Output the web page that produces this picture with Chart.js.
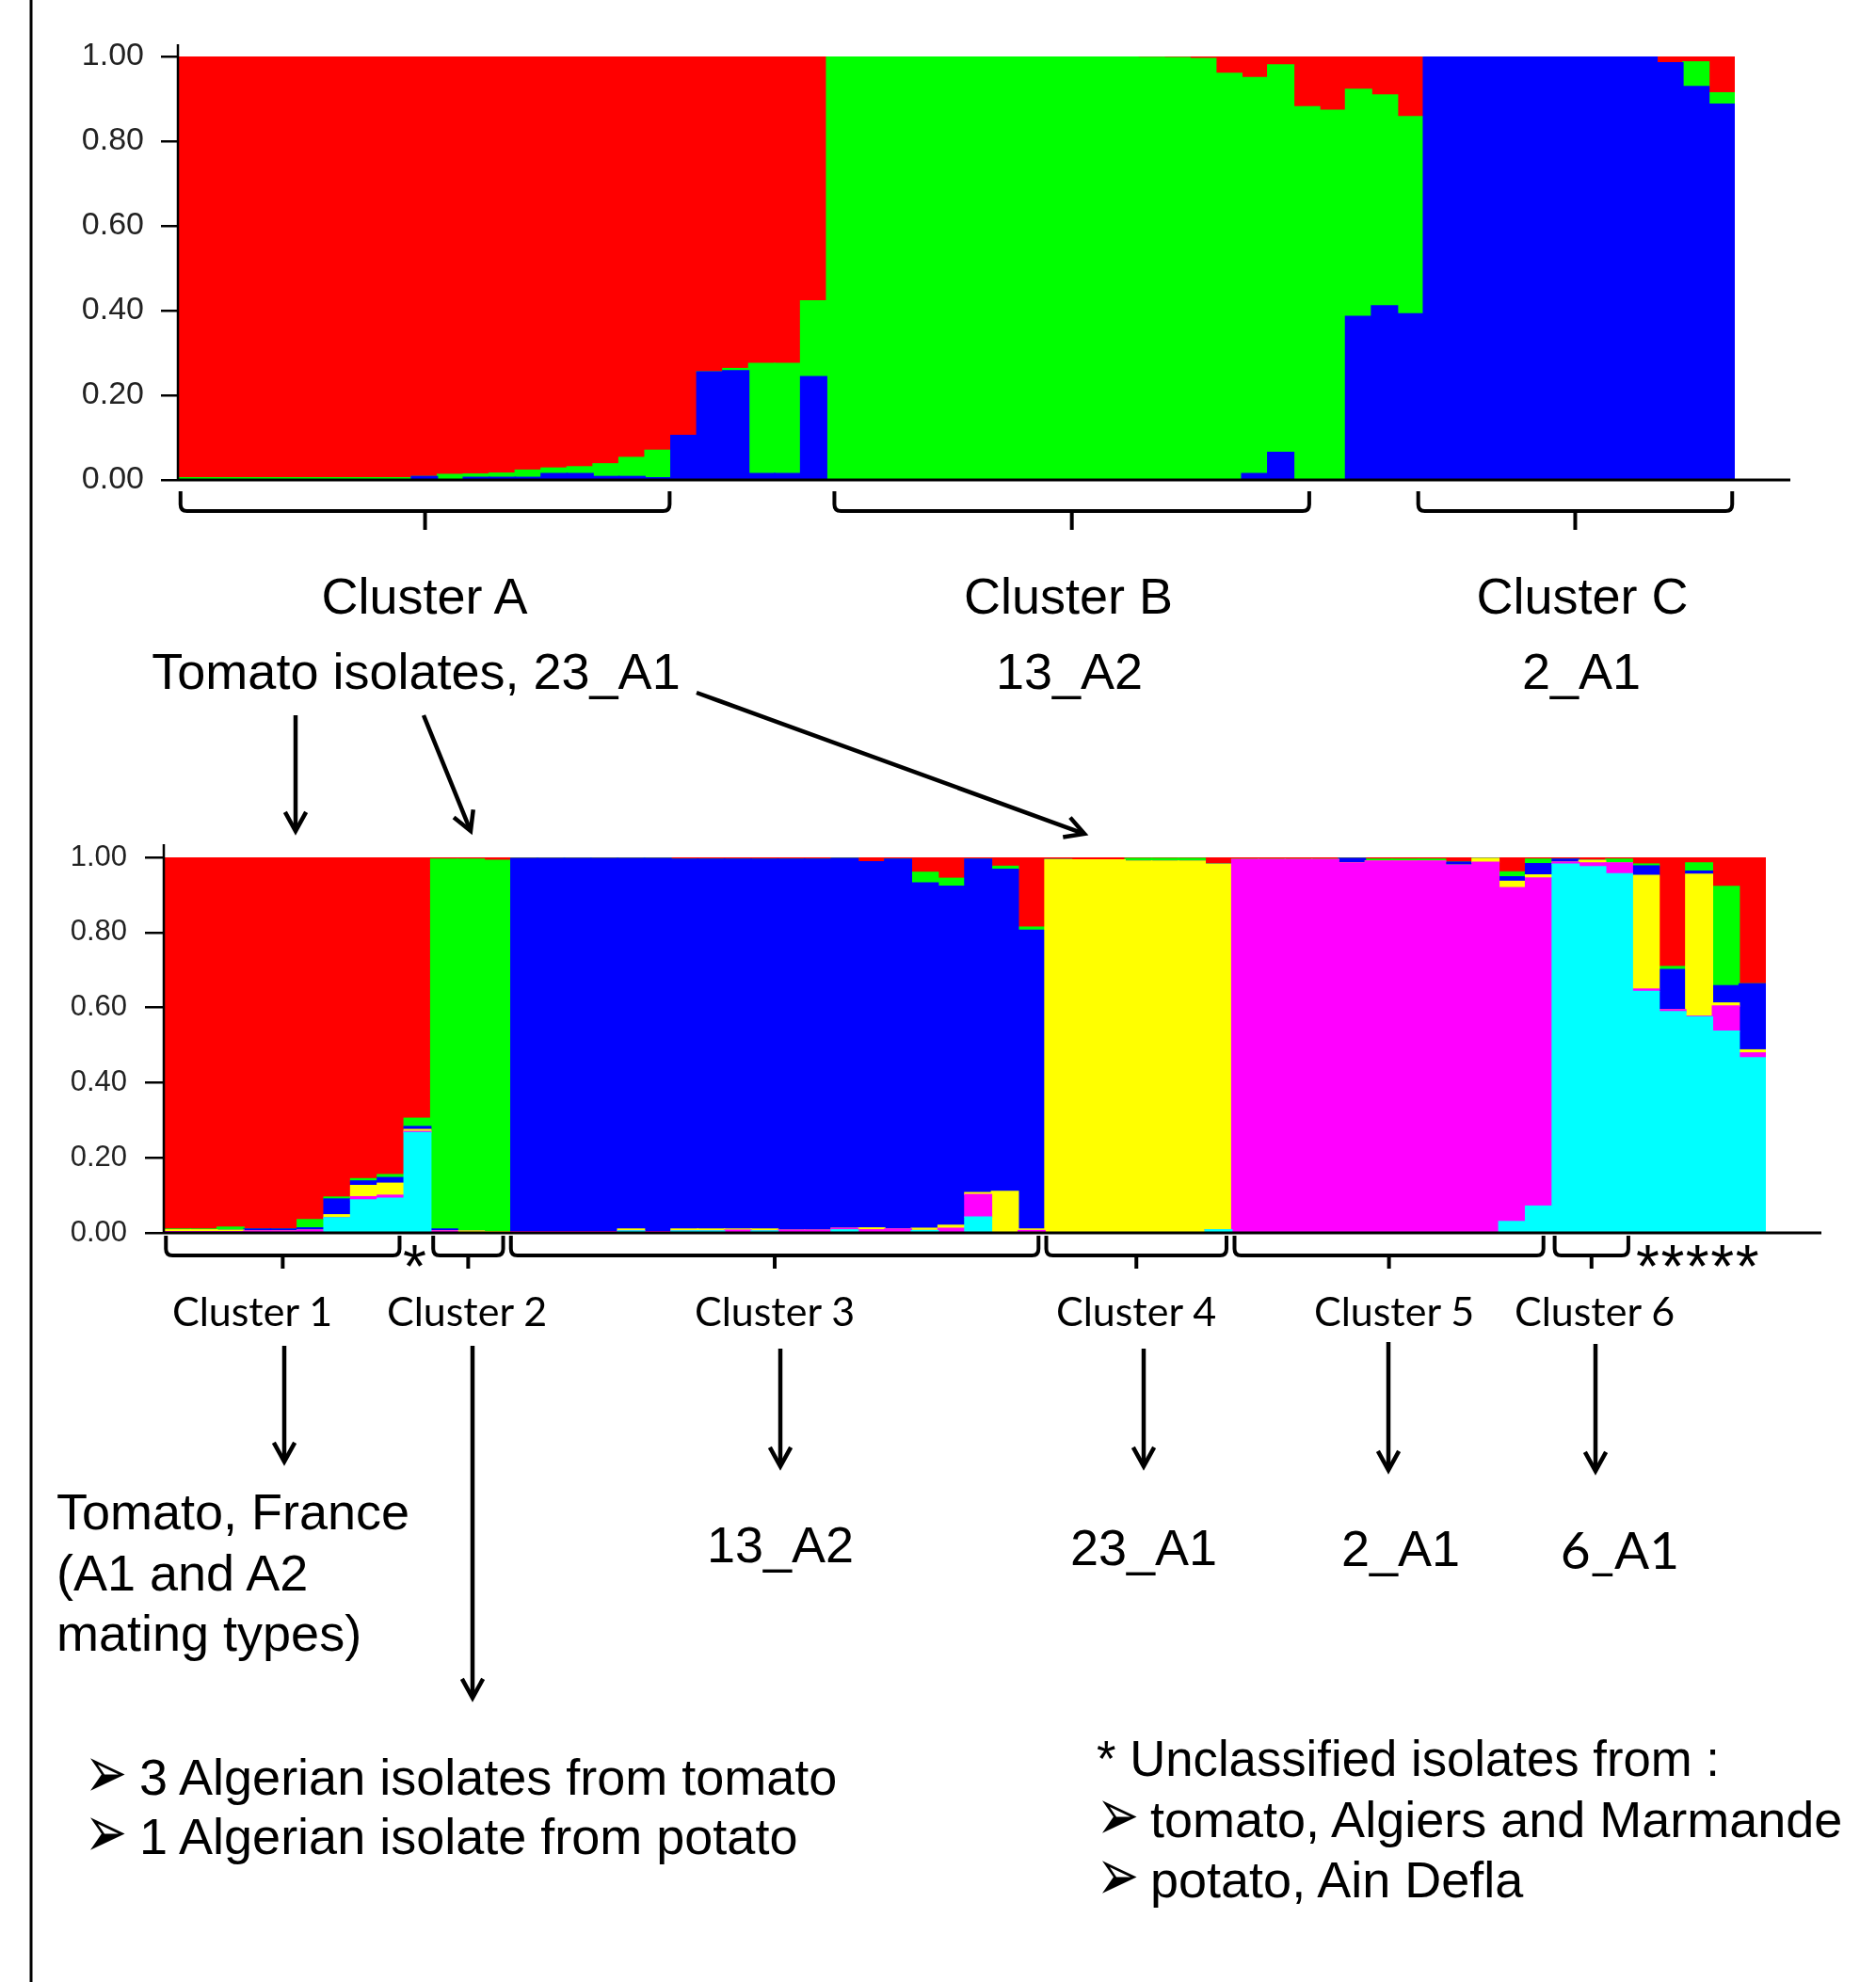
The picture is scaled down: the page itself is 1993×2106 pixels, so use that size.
<!DOCTYPE html>
<html><head><meta charset="utf-8">
<script src="https://cdn.jsdelivr.net/npm/chart.js@4.4.1/dist/chart.umd.min.js"></script>
<style>
html,body{margin:0;padding:0;background:#fff;}
#page{position:relative;width:1993px;height:2106px;overflow:hidden;background:#fff;}
canvas{position:absolute;left:0;}
#topChart{top:0;}
#botChart{top:860px;}
#ann{position:absolute;left:0;top:0;}
.a{font-family:"Liberation Sans",Arial,sans-serif;font-size:54px;fill:#000;}
.c{font-family:Lato,"Open Sans",sans-serif;font-size:43px;fill:#000;}
.b{font-family:"DejaVu Sans",sans-serif;font-size:54px;fill:#000;}
.s{font-family:"Liberation Sans",Arial,sans-serif;font-size:64px;fill:#000;letter-spacing:1.5px;}
</style></head><body>
<div id="page">
<canvas id="topChart" width="1993" height="600" style="width:1993px;height:600px"></canvas>
<canvas id="botChart" width="1993" height="500" style="width:1993px;height:500px"></canvas>
<svg id="ann" width="1993" height="2106" xmlns="http://www.w3.org/2000/svg">
  <line x1="33" y1="0" x2="33" y2="2106" stroke="#000" stroke-width="3"/>
  <text class="a" x="451" y="652" text-anchor="middle">Cluster A</text>
  <text class="a" x="1135" y="652" text-anchor="middle">Cluster B</text>
  <text class="a" x="1681" y="652" text-anchor="middle">Cluster C</text>
  <text class="a" x="442" y="732" text-anchor="middle">Tomato isolates, 23_A1</text>
  <text class="a" x="1136" y="732" text-anchor="middle">13_A2</text>
  <text class="a" x="1680" y="732" text-anchor="middle">2_A1</text>
  <text class="s" x="428" y="1368">*</text>
  <text class="s" x="1738" y="1368">*****</text>
  <text class="c" x="268" y="1409" text-anchor="middle">Cluster 1</text>
  <text class="c" x="496" y="1409" text-anchor="middle">Cluster 2</text>
  <text class="c" x="823" y="1409" text-anchor="middle">Cluster 3</text>
  <text class="c" x="1207" y="1409" text-anchor="middle">Cluster 4</text>
  <text class="c" x="1481" y="1409" text-anchor="middle">Cluster 5</text>
  <text class="c" x="1694" y="1409" text-anchor="middle">Cluster 6</text>
  <text class="a" x="60" y="1625">Tomato, France</text>
  <text class="a" x="60" y="1690">(A1 and A2</text>
  <text class="a" x="60" y="1754">mating types)</text>
  <text class="a" x="829" y="1660" text-anchor="middle">13_A2</text>
  <text class="a" x="1215" y="1663" text-anchor="middle">23_A1</text>
  <text class="a" x="1488" y="1664" text-anchor="middle">2_A1</text>
  <text class="c" x="1721" y="1667" text-anchor="middle" style="font-size:55px">6_A1</text>
  <text class="b" transform="translate(90,1910) scale(1,1.45)">➢</text>
  <text class="a" x="148" y="1907">3 Algerian isolates from tomato</text>
  <text class="b" transform="translate(90,1973) scale(1,1.45)">➢</text>
  <text class="a" x="148" y="1970">1 Algerian isolate from potato</text>
  <text class="a" x="1165" y="1887" textLength="662" lengthAdjust="spacingAndGlyphs">* Unclassified isolates from :</text>
  <text class="b" transform="translate(1165,1955) scale(1,1.45)">➢</text>
  <text class="a" x="1222" y="1952">tomato, Algiers and Marmande</text>
  <text class="b" transform="translate(1165,2019) scale(1,1.45)">➢</text>
  <text class="a" x="1222" y="2016">potato, Ain Defla</text>
</svg>
</div>
<script>
// ---- categories and ticks ----
const isolates = ['1','2','3','4','5','6','7','8','9','10','11','12','13','14','15','16','17','18','19','20',
  '21','22','23','24','25','26','27','28','29','30','31','32','33','34','35','36','37','38','39','40',
  '41','42','43','44','45','46','47','48','49','50','51','52','53','54','55','56','57','58','59','60'];
const yTickLabels = ['0.00','0.20','0.40','0.60','0.80','1.00'];

// ---- top plot (K=3) membership coefficients ----
const topBlue = [0,0,0,0,0,0,0,0,0,.008,0,.006,.006,.006,.015,.015,.008,.008,.005,.105,.255,.258,.015,.015,.244,
  0,0,0,0,0,0,0,0,0,0,0,0,0,0,
  0,0,.015,.065,0,0,.386,.411,.392,
  1,1,1,1,1,1,1,1,1,.985,.929,.887];
const topGreen = [.005,.005,.005,.005,.005,.005,.005,.005,.005,0,.013,.008,.01,.017,.013,.016,.03,.045,.065,0,0,.005,.26,.26,.179,
  1,1,1,1,1,1,1,1,1,1,1,1,.998,.997,
  .995,.96,.935,.915,.881,.873,.536,.498,.466,
  0,0,0,0,0,0,0,0,0,0,.058,.027];
const topRed = [.995,.995,.995,.995,.995,.995,.995,.995,.995,.992,.987,.986,.984,.977,.972,.969,.962,.947,.93,.895,.745,.737,.725,.725,.577,
  0,0,0,0,0,0,0,0,0,0,0,0,.002,.003,
  .005,.04,.05,.02,.119,.127,.078,.091,.142,
  0,0,0,0,0,0,0,0,0,.015,.013,.086];

// ---- bottom plot (K=6) membership coefficients ----
const botRed = [.990,.990,.985,.990,.990,.965,.905,.856,.845,.695, .005,.005,.008,
  .003,.003,.003,.003,.003,.003,.005,.005,.005,.005,.005,.005,.003,.012,.005,.040,.056,.005,.024,.186,
  .006,.007,.007,.003,.003,.003,.018,
  .006,.006,.006,.006,.003,.005,.005,.005,.013,.003,.039,.005,
  .005,.008,.005,.018,.291,.015,.078,.337];
const botGreen = [.002,.002,.008,0,0,.022,.005,.006,.008,.022, .985,.990,.990,
  0,0,0,0,0,0,0,0,0,0,0,0,0,0,0,.028,.021,0,.008,.008,
  0,0,0,.007,.007,.007,0,
  0,0,0,0,0,.005,.005,.005,0,0,.013,.012,
  0,0,.010,.005,.008,.022,.264,0];
const botBlue = [0,0,0,.005,.005,.006,.042,.012,.015,.008, .005,0,0,
  .995,.995,.995,.995,.987,.995,.985,.985,.985,.985,.988,.988,.985,.975,.985,.920,.903,.888,.858,.796,
  0,0,0,0,0,0,0,
  0,0,0,0,.012,0,0,0,.008,0,.012,.030,
  .008,0,0,.025,.107,.008,.046,.176];
const botYellow = [.006,.006,.005,0,0,0,.008,.030,.032,.005, 0,.005,.002,
  0,0,0,0,.005,0,.005,.005,.003,.005,0,0,0,.005,0,.006,.008,.005,.110,.004,
  .994,.993,.993,.990,.990,.990,.974,
  0,0,0,0,0,0,0,0,0,.010,.017,.008,
  0,.007,0,.303,0,.378,.008,.008];
const botMagenta = [.002,.002,.002,.005,.005,.007,0,.008,.008,.003, .005,0,0,
  .002,.002,.002,.002,0,.002,0,0,.007,0,.007,.007,.004,.008,.010,0,.012,.060,0,.006,
  0,0,0,0,0,0,0,
  .994,.994,.994,.994,.985,.990,.990,.990,.979,.987,.889,.874,
  .005,.010,.029,.006,.005,.002,.067,.013];
const botCyan = [0,0,0,0,0,0,.040,.088,.092,.267, 0,0,0,
  0,0,0,0,.005,0,.005,.005,0,.005,0,0,.008,0,0,.006,0,.042,0,0,
  0,0,0,0,0,0,.008,
  0,0,0,0,0,0,0,0,0,0,.030,.071,
  .982,.975,.956,.643,.589,.575,.537,.466];

// ---- cluster brackets (in bar units from the left edge) ----
const topBrackets = [[0.1,18.95],[25.3,43.6],[47.8,59.9]];
const botBrackets = [[0.08,8.83],[10.09,12.71],[13.0,32.76],[33.05,39.8],[40.1,51.67],[52.09,54.85]];

const framePlugin = {
  id: 'frame',
  afterDraw(chart, args, o) {
    const {ctx, chartArea: ca, scales} = chart;
    const xs = scales.x;
    ctx.save();
    ctx.strokeStyle = '#000';
    ctx.lineCap = 'butt';
    ctx.lineWidth = 2.5;
    ctx.beginPath(); ctx.moveTo(ca.left, ca.top - o.over); ctx.lineTo(ca.left, ca.bottom); ctx.stroke();
    ctx.lineWidth = 3;
    ctx.beginPath(); ctx.moveTo(ca.left, ca.bottom); ctx.lineTo(ca.right + o.extend, ca.bottom); ctx.stroke();
    ctx.lineWidth = 4;
    ctx.lineJoin = 'round';
    o.brackets.forEach(([a, b]) => {
      const x1 = xs.getPixelForValue(a - 0.5), x2 = xs.getPixelForValue(b - 0.5);
      const y0 = ca.bottom + o.b0, y1 = ca.bottom + o.b1, y2 = ca.bottom + o.b2, r = 7;
      const m = (x1 + x2) / 2;
      ctx.beginPath();
      ctx.moveTo(x1, y0); ctx.lineTo(x1, y1 - r); ctx.quadraticCurveTo(x1, y1, x1 + r, y1);
      ctx.lineTo(x2 - r, y1); ctx.quadraticCurveTo(x2, y1, x2, y1 - r); ctx.lineTo(x2, y0);
      ctx.stroke();
      ctx.beginPath(); ctx.moveTo(m, y1); ctx.lineTo(m, y2); ctx.stroke();
    });
    ctx.restore();
  }
};

function makeChart(id, series, o) {
  return new Chart(document.getElementById(id), {
    type: 'bar',
    data: {
      labels: isolates,
      datasets: series.map(s => ({label: s[0], data: s[1], backgroundColor: s[2], borderWidth: 0,
        barPercentage: 1, categoryPercentage: 1, inflateAmount: 0.75}))
    },
    options: {
      responsive: false, animation: false, devicePixelRatio: 1,
      layout: {padding: {left: 0, top: o.top, right: o.right, bottom: o.bottom}},
      plugins: {legend: {display: false}, tooltip: {enabled: false},
        frame: {over: o.over, extend: o.extend, brackets: o.brackets, b0: o.b0, b1: o.b1, b2: o.b2}},
      scales: {
        x: {stacked: true, display: false},
        y: {stacked: true, min: 0, max: 1,
          afterFit(s) { s.width = o.yw; },
          ticks: {stepSize: 0.2, callback: (v, i) => yTickLabels[i], padding: o.pad, color: '#222',
            font: {family: '"Liberation Sans", Arial, sans-serif', size: o.fs}},
          grid: {drawOnChartArea: false, drawTicks: true, tickLength: o.tl, color: '#000', lineWidth: 2.5},
          border: {display: false}}
      }
    },
    plugins: [framePlugin]
  });
}

makeChart('topChart', [
  ['blue', topBlue, '#0000FF'], ['green', topGreen, '#00FF00'], ['red', topRed, '#FF0000']
], {top: 60, right: 150, bottom: 90, yw: 189, pad: 18, tl: 18, fs: 34, over: 13, extend: 59,
    brackets: topBrackets, b0: 12, b1: 33, b2: 53});

makeChart('botChart', [
  ['cyan', botCyan, '#00FFFF'], ['magenta', botMagenta, '#FF00FF'], ['yellow', botYellow, '#FFFF00'],
  ['blue', botBlue, '#0000FF'], ['green', botGreen, '#00FF00'], ['red', botRed, '#FF0000']
], {top: 51, right: 117, bottom: 50, yw: 174, pad: 19, tl: 20, fs: 31, over: 14, extend: 59,
    brackets: botBrackets, b0: 3, b1: 24, b2: 38});

// ---- arrows ----
const arrows = [[314,760,314,883],[450,760,500,883],[740,736,1152,886],
  [302,1430,302,1553],[502,1430,502,1804],[829,1433,829,1558],[1215,1433,1215,1558],
  [1475,1426,1475,1562],[1695,1428,1695,1563]];
const svg = document.getElementById('ann');
const NS = 'http://www.w3.org/2000/svg';
arrows.forEach(([x1,y1,x2,y2]) => {
  const th = Math.atan2(y2 - y1, x2 - x1), L = 23, h = 29 * Math.PI / 180;
  const ln = document.createElementNS(NS, 'line');
  ln.setAttribute('x1', x1); ln.setAttribute('y1', y1);
  ln.setAttribute('x2', x2 - 2 * Math.cos(th)); ln.setAttribute('y2', y2 - 2 * Math.sin(th));
  ln.setAttribute('stroke', '#000'); ln.setAttribute('stroke-width', '4.5');
  svg.appendChild(ln);
  const p = document.createElementNS(NS, 'polyline');
  const ax = x2 - L * Math.cos(th - h), ay = y2 - L * Math.sin(th - h);
  const bx = x2 - L * Math.cos(th + h), by = y2 - L * Math.sin(th + h);
  p.setAttribute('points', `${ax},${ay} ${x2},${y2} ${bx},${by}`);
  p.setAttribute('fill', 'none'); p.setAttribute('stroke', '#000'); p.setAttribute('stroke-width', '4.5');
  p.setAttribute('stroke-linejoin', 'miter');
  svg.appendChild(p);
});
</script>
</body></html>
